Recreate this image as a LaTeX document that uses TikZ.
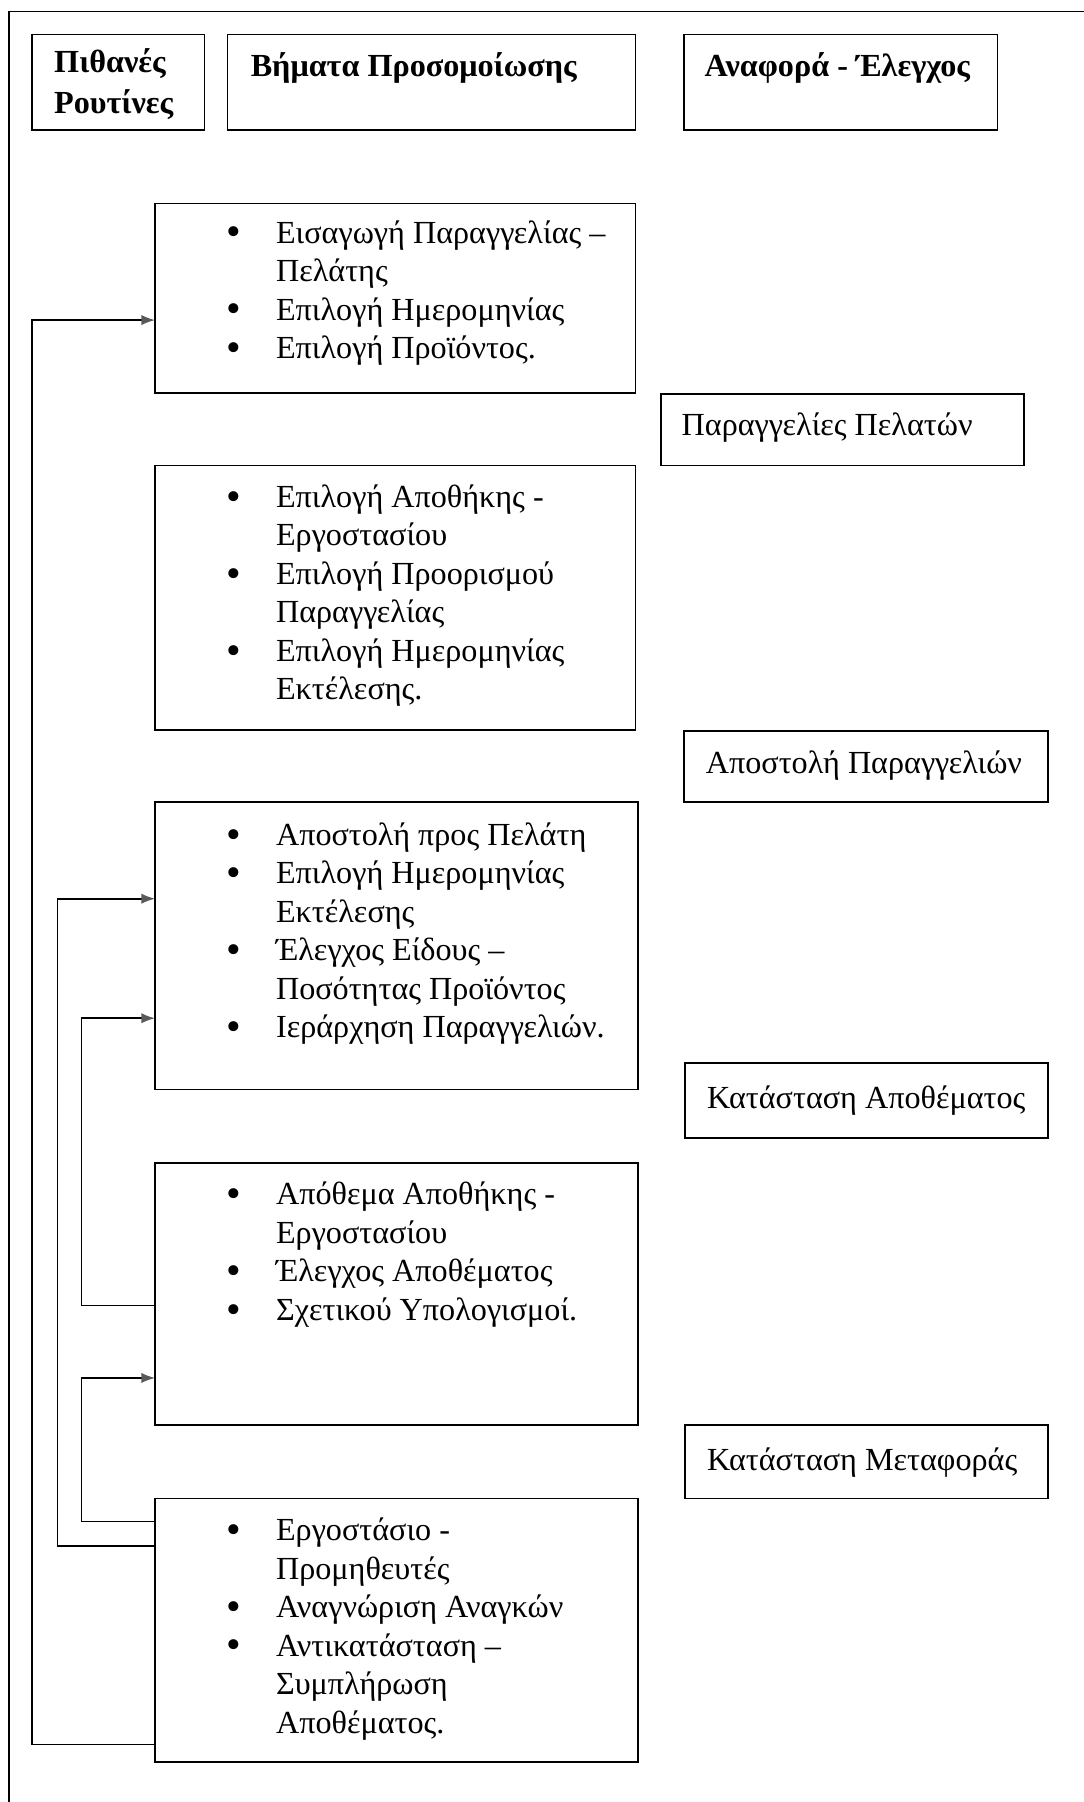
\documentclass[tikz,border=0pt]{standalone}
\usepackage{fontspec}
\setmainfont{Liberation Serif}
\usetikzlibrary{arrows.meta}
% bullet and hanging indent for the step lists
\newcommand\stepbul{\makebox[43.4pt][l]{\raisebox{-0.09em}{\scalebox{1.3}{\textbullet}}}}
\newcommand\stepind{\hspace*{43.4pt}}
\begin{document}
\begin{tikzpicture}[x=1pt,y=-1pt,
  box/.style={draw,line width=1.5pt,inner sep=0pt,outer sep=0pt,anchor=north west},
  % text nodes are placed by the baseline of their first line
  txt/.style={inner sep=0pt,anchor=north west,yshift=23.45pt,align=left,
    execute at begin node=\strut,font=\fontsize{28}{33.5}\selectfont},
  head/.style={inner sep=0pt,anchor=north west,yshift=24.5pt,align=left,
    execute at begin node=\strut,font=\fontsize{28}{35}\selectfont\bfseries},
  conn/.style={line width=1.5pt},
  arr/.style={conn,-{Latex[length=12pt,width=9pt,color=black!65]}}]
\useasboundingbox (0,0) rectangle (943,1568);

% frame (top and left edges)
\draw[line width=1.5pt] (8,1568) -- (8,10) -- (943,10);

% column headers
\node[box,minimum width=150pt,minimum height=83pt] (h1) at (28,30) {};
\node[box,minimum width=355pt,minimum height=83pt] (h2) at (198,30) {};
\node[box,minimum width=273pt,minimum height=83pt] (h3) at (595,30) {};
\node[head] (h1t) at (47,67) {Πιθανές\\Ρουτίνες};
\node[head] (h2t) at (218,66) {Βήματα Προσομοίωσης};
\node[head] (h3t) at (613,66) {Αναφορά - Έλεγχος};

% simulation steps
\node[box,minimum width=418pt,minimum height=165pt] (b1) at (135,177) {};
\node[box,minimum width=418pt,minimum height=230pt] (b2) at (135,405) {};
\node[box,minimum width=420pt,minimum height=250pt] (b3) at (135,698) {};
\node[box,minimum width=420pt,minimum height=228pt] (b4) at (135,1012) {};
\node[box,minimum width=420pt,minimum height=229pt] (b5) at (135,1304) {};

\node[txt] (b1t) at (196.6,215) {\stepbul Εισαγωγή Παραγγελίας –\\\stepind Πελάτης\\
  \stepbul Επιλογή Ημερομηνίας\\\stepbul Επιλογή Προϊόντος.};
\node[txt] (b2t) at (196.6,445) {\stepbul Επιλογή Αποθήκης -\\\stepind Εργοστασίου\\
  \stepbul Επιλογή Προορισμού\\\stepind Παραγγελίας\\
  \stepbul Επιλογή Ημερομηνίας\\\stepind Εκτέλεσης.};
\node[txt] (b3t) at (196.6,739) {\stepbul Αποστολή προς Πελάτη\\
  \stepbul Επιλογή Ημερομηνίας\\\stepind Εκτέλεσης\\
  \stepbul Έλεγχος Είδους –\\\stepind Ποσότητας Προϊόντος\\
  \stepbul Ιεράρχηση Παραγγελιών.};
\node[txt] (b4t) at (196.6,1052) {\stepbul Απόθεμα Αποθήκης -\\\stepind Εργοστασίου\\
  \stepbul Έλεγχος Αποθέματος\\\stepbul Σχετικού Υπολογισμοί.};
\node[txt] (b5t) at (196.6,1344) {\stepbul Εργοστάσιο -\\\stepind Προμηθευτές\\
  \stepbul Αναγνώριση Αναγκών\\\stepbul Αντικατάσταση –\\
  \stepind Συμπλήρωση\\\stepind Αποθέματος.};

% reports
\node[box,minimum width=316pt,minimum height=62pt] (r1) at (575,343) {};
\node[box,minimum width=317pt,minimum height=62pt] (r2) at (595,636) {};
\node[box,minimum width=316pt,minimum height=65pt] (r3) at (596,925) {};
\node[box,minimum width=316pt,minimum height=64pt] (r4) at (596,1240) {};
\node[txt] (r1t) at (593,378.6) {Παραγγελίες Πελατών};
\node[txt] (r2t) at (614,673) {Αποστολή Παραγγελιών};
\node[txt] (r3t) at (615,964) {Κατάσταση Αποθέματος};
\node[txt] (r4t) at (615,1279) {Κατάσταση Μεταφοράς};

% routine loops on the left
\coordinate (a1) at (28,1518);  \coordinate (a2) at (28,278.5);
\coordinate (c1) at (50,1345.5); \coordinate (c2) at (50,782);
\coordinate (d1) at (71,1136);  \coordinate (d2) at (71,886);
\coordinate (e1) at (71,1324);  \coordinate (e2) at (71,1199);

\draw[arr] (a1 -| b5.west) -- (a1) -- (a2) -- (a2 -| b1.west);
\draw[arr] (c1 -| b5.west) -- (c1) -- (c2) -- (c2 -| b3.west);
\draw[arr] (d1 -| b4.west) -- (d1) -- (d2) -- (d2 -| b3.west);
\draw[arr] (e1 -| b5.west) -- (e1) -- (e2) -- (e2 -| b4.west);
\end{tikzpicture}
\end{document}
